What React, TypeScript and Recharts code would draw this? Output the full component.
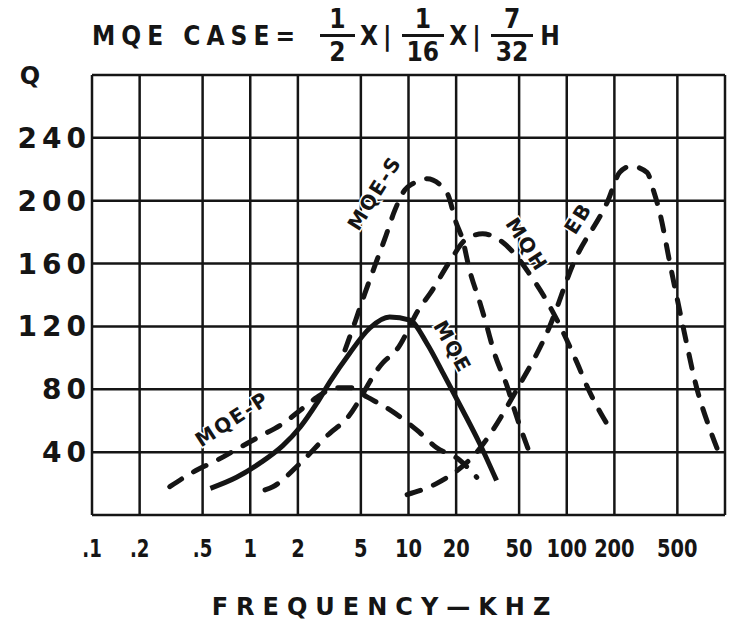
import React from "react";
import { LineChart, Line, XAxis, YAxis, CartesianGrid, ReferenceDot } from "recharts";

const FREQ_TICKS = [0.1, 0.2, 0.5, 1, 2, 5, 10, 20, 50, 100, 200, 500, 1000];
const FREQ_LABELS = [".1", ".2", ".5", "1", "2", "5", "10", "20", "50", "100", "200", "500", ""];
const Q_TICKS = [0, 40, 80, 120, 160, 200, 240, 280];
const Q_LABELS = ["", "40", "80", "120", "160", "200", "240", "Q"];

// frequency in kHz, Q
const MQE_P_F = [0.31, 0.43, 0.62, 0.86, 1.15, 1.6, 2.15, 2.65, 3.5, 4.3, 5.5, 7.6, 11.3, 15, 21, 27];
const MQE_P_Q = [18, 27, 35, 43, 50, 58, 68, 75, 81, 81, 75, 67, 54, 43, 35, 24];

const MQE_F = [0.56, 0.82, 1.15, 1.6, 2.07, 2.63, 3.2, 4.25, 5.7, 7.6, 10.2, 13.1, 16.6, 21.9, 28, 36];
const MQE_Q = [17, 24, 33, 44, 56, 71, 85, 103, 119, 126, 124, 109, 90, 67, 46, 22];

const MQE_S_F = [3.97, 4.6, 5.3, 6.1, 7.1, 8.2, 9.5, 10.7, 13.1, 17.5, 20, 22, 24.3, 28.3, 31.3, 34.4, 42.6, 46, 58];
const MQE_S_Q = [105, 123, 141, 158, 176, 194, 207, 211, 214, 205, 186, 175, 156, 135, 120, 105, 80, 69, 40];

const MQH_F = [1.24, 1.39, 2.07, 3.18, 3.96, 6.9, 8.4, 11.8, 13.7, 18.4, 22.8, 29.4, 37.6, 47, 58.5, 71, 91, 116, 137, 170, 196];
const MQH_Q = [16, 18, 33, 52, 60, 97, 105, 132, 141, 162, 175, 179, 175, 166, 153, 140, 120, 97, 80, 62, 52];

const EB_F = [9.8, 15, 27, 48.5, 78, 110, 182, 216, 255, 322, 352, 388, 449, 543, 666, 800, 910];
const EB_Q = [13, 20, 40, 80, 120, 160, 200, 218, 222, 218, 207, 192, 160, 120, 80, 55, 40];

const CURVE_NAMES = ["MQE-P", "MQE-S", "MQH", "EB", "MQE"];
const CURVE_NAME_F = [0.77, 6.1, 56, 118, 19];
const CURVE_NAME_Q = [61, 205, 172, 189, 107];
const CURVE_NAME_ANGLE = [-33, -58, 57, -58, 61];

const INK = "#151515";
const FONT = "'DejaVu Sans', sans-serif";
const CONDENSED = "'DejaVu Sans Condensed', 'DejaVu Sans', sans-serif";

const zip = (f: number[], q: number[]) => f.map((v, i) => ({ f: v, q: q[i] }));

const FreqTick = ({ x, y, payload }: any) => {
  const txt = FREQ_LABELS[FREQ_TICKS.indexOf(payload.value)];
  if (!txt) return null;
  const w = txt.split("").reduce((s: number, c: string) => s + (c === "." ? 6 : 13.5), 0);
  return (
    <text
      x={x}
      y={y + 34}
      textAnchor="middle"
      fill={INK}
      fontFamily={CONDENSED}
      fontWeight={700}
      fontSize={24}
      textLength={w}
      lengthAdjust="spacingAndGlyphs"
    >
      {txt}
    </text>
  );
};

const QTick = ({ x, y, payload }: any) => {
  const txt = Q_LABELS[Q_TICKS.indexOf(payload.value)];
  if (txt === "Q") {
    return (
      <text x={30} y={y + 9} textAnchor="middle" fill={INK} fontFamily={FONT} fontWeight={700} fontSize={24}>
        Q
      </text>
    );
  }
  return (
    <text x={x + 7} y={y + 10} textAnchor="end" fill={INK} fontFamily={FONT} fontWeight={700} fontSize={28} letterSpacing={5}>
      {txt}
    </text>
  );
};

const CurveName = ({ viewBox, text, rot }: any) => {
  const cx = viewBox.x + viewBox.width / 2;
  const cy = viewBox.y + viewBox.height / 2;
  return (
    <text
      x={cx}
      y={cy}
      textAnchor="middle"
      dominantBaseline="central"
      transform={`rotate(${rot}, ${cx}, ${cy})`}
      fill={INK}
      fontFamily={FONT}
      fontWeight={700}
      fontSize={20}
      letterSpacing={2}
      stroke="#fff"
      strokeWidth={3}
      paintOrder="stroke"
    >
      {text}
    </text>
  );
};

const Frac = ({ n, d }: { n: string; d: string }) => (
  <span
    style={{
      display: "inline-flex",
      flexDirection: "column",
      alignItems: "center",
      lineHeight: 1,
      margin: "0 5px",
      minWidth: 35,
      letterSpacing: 0,
    }}
  >
    <span style={{ paddingBottom: 2 }}>{n}</span>
    <span style={{ alignSelf: "stretch", borderTop: `3px solid ${INK}`, margin: "0 0 2px" }} />
    <span style={{ padding: "0 5px" }}>{d}</span>
  </span>
);

const XLabel = ({ viewBox }: any) => (
  <text
    x={385}
    y={viewBox.y + viewBox.height}
    textAnchor="middle"
    fill={INK}
    fontFamily={FONT}
    fontWeight={700}
    fontSize={24}
    letterSpacing={8}
  >
    FREQUENCY—KHZ
  </text>
);

const dashed = { strokeDasharray: "14 14", strokeLinecap: "round" as const };

export default function App() {
  return (
    <div style={{ position: "relative", width: 734, height: 630, background: "#fff" }}>
      <style>{"body{margin:0;background:#fff}"}</style>
      <div
        style={{
          position: "absolute",
          left: 92,
          top: 6,
          display: "flex",
          alignItems: "center",
          fontFamily: CONDENSED,
          fontWeight: 700,
          fontSize: 26,
          color: INK,
          whiteSpace: "pre",
        }}
      >
        <span style={{ letterSpacing: 6, marginRight: 14 }}>MQE CASE=</span>
        <Frac n="1" d="2" />
        <span style={{ letterSpacing: 5 }}>X|</span>
        <Frac n="1" d="16" />
        <span style={{ letterSpacing: 5 }}>X|</span>
        <Frac n="7" d="32" />
        <span style={{ marginLeft: 2 }}>H</span>
      </div>
      <LineChart width={734} height={630} margin={{ top: 75, right: 9, bottom: 15, left: 10 }}>
        <CartesianGrid stroke={INK} strokeWidth={2.5} />
        <XAxis
          dataKey="f"
          type="number"
          scale="log"
          domain={[0.1, 1000]}
          ticks={FREQ_TICKS}
          allowDataOverflow
          axisLine={false}
          tickLine={false}
          interval={0}
          height={100}
          tick={<FreqTick />}
          label={<XLabel />}
        />
        <YAxis
          type="number"
          domain={[0, 280]}
          ticks={Q_TICKS}
          interval={0}
          axisLine={false}
          tickLine={false}
          width={82}
          tick={<QTick />}
        />
        <Line data={zip(MQE_P_F, MQE_P_Q)} dataKey="q" type="monotone" stroke={INK} strokeWidth={5} dot={false} isAnimationActive={false} {...dashed} />
        <Line data={zip(MQE_F, MQE_Q)} dataKey="q" type="monotone" stroke={INK} strokeWidth={5} dot={false} isAnimationActive={false} />
        <Line data={zip(MQE_S_F, MQE_S_Q)} dataKey="q" type="monotone" stroke={INK} strokeWidth={5} dot={false} isAnimationActive={false} {...dashed} />
        <Line data={zip(MQH_F, MQH_Q)} dataKey="q" type="monotone" stroke={INK} strokeWidth={5} dot={false} isAnimationActive={false} {...dashed} />
        <Line data={zip(EB_F, EB_Q)} dataKey="q" type="monotone" stroke={INK} strokeWidth={5} dot={false} isAnimationActive={false} {...dashed} />
        {CURVE_NAMES.map((name, i) => (
          <ReferenceDot
            key={name}
            x={CURVE_NAME_F[i]}
            y={CURVE_NAME_Q[i]}
            r={0}
            fill="none"
            stroke="none"
            label={<CurveName text={name} rot={CURVE_NAME_ANGLE[i]} />}
          />
        ))}
      </LineChart>
    </div>
  );
}
